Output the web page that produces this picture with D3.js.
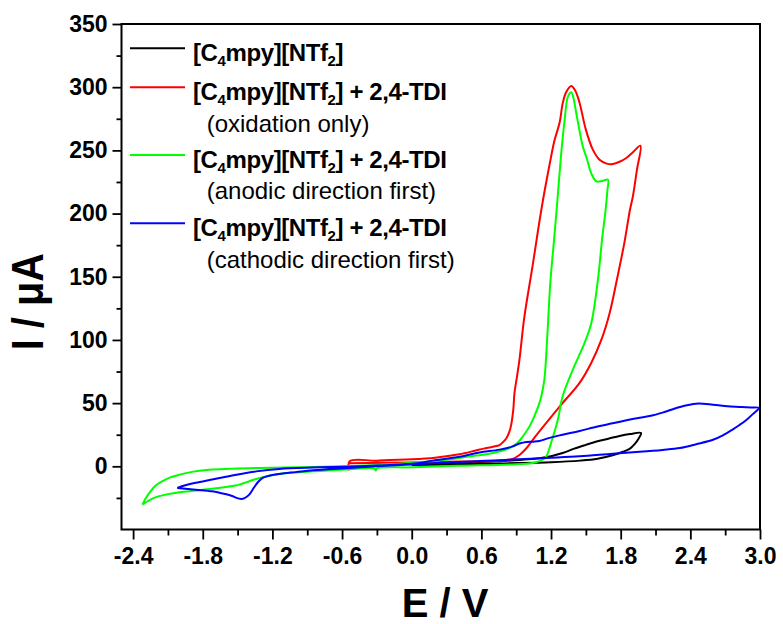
<!DOCTYPE html>
<html>
<head>
<meta charset="utf-8">
<script src="https://cdn.jsdelivr.net/npm/d3@7"></script>
<style>
  html, body { margin: 0; padding: 0; background: #fff; }
  svg { display: block; font-family: "Liberation Sans", Arial, Helvetica, sans-serif; }
</style>
</head>
<body>
<svg id="chart" width="783" height="624"></svg>
<script>
// Axis ticks
const xTicks = [-2.4, -1.8, -1.2, -0.6, 0.0, 0.6, 1.2, 1.8, 2.4, 3.0];
const xMinorTicks = [-2.1, -1.5, -0.9, -0.3, 0.3, 0.9, 1.5, 2.1, 2.7];
const yTicks = [0, 50, 100, 150, 200, 250, 300, 350];
const yMinorTicks = [-25, 25, 75, 125, 175, 225, 275, 325];

// Cyclic voltammograms: [E / V, I / µA]
const neatIL = [
  [0.0, 1.0], [0.4, 1.5], [0.8, 2.3], [1.2, 3.2], [1.45, 4.5], [1.6, 6.0], [1.73, 8.8],
  [1.82, 11.5], [1.88, 14], [1.92, 17.5], [1.955, 22], [1.975, 26.4],
  [1.88, 25.5], [1.79, 24], [1.70, 22], [1.60, 19.8], [1.50, 17], [1.40, 14],
  [1.30, 10.5], [1.2, 8], [1.0, 5.5], [0.73, 4], [0.4, 2.7], [0.0, 1.5]
];

const oxidationOnly = [
  [-0.54, -3.2], [-0.535, 4.0], [-0.3, 4.5], [0.0, 5.5], [0.2, 6.8], [0.41, 9.5], [0.55, 12.5],
  [0.62, 14], [0.70, 15.5], [0.756, 16.8], [0.79, 19.5], [0.814, 22], [0.84, 27], [0.857, 33],
  [0.875, 45], [0.885, 58], [0.905, 70], [0.928, 84.4], [0.97, 118], [1.04, 158], [1.12, 205],
  [1.19, 240], [1.23, 258], [1.274, 272], [1.30, 287], [1.33, 296], [1.374, 301], [1.41, 297],
  [1.446, 287.5], [1.50, 266.4], [1.56, 250.6], [1.618, 242.6], [1.68, 239.5], [1.733, 239.2],
  [1.79, 241], [1.848, 244], [1.91, 249], [1.97, 253.7],
  [1.94, 234.7], [1.905, 213.6], [1.88, 203], [1.83, 176], [1.768, 148], [1.704, 121],
  [1.633, 100], [1.547, 82], [1.446, 66], [1.288, 48.8], [1.159, 34.3], [1.043, 21],
  [0.98, 13.5], [0.928, 9.0], [0.87, 5.8], [0.70, 4.2], [0.41, 3.8], [0.0, 3.0], [-0.535, 2.5]
];

const anodicFirst = [
  [-2.32, -30.3], [-2.22, -25], [-2.12, -22.4], [-2.0, -20.5], [-1.86, -19.2], [-1.72, -17.8],
  [-1.60, -16.3], [-1.53, -15.3], [-1.485, -14.5], [-1.42, -12.5], [-1.34, -10], [-1.24, -7.8],
  [-1.14, -6], [-1.0, -4.8], [-0.85, -4], [-0.57, -2.6], [-0.32, -1.8], [-0.31, -3.4],
  [-0.30, -1.7], [0.0, -0.8], [0.4, 0.4], [0.84, 1.5], [1.043, 2.7], [1.12, 4.8], [1.159, 7.9],
  [1.20, 18.5], [1.259, 37], [1.30, 55.4], [1.388, 76.5], [1.489, 97.6], [1.547, 113.4],
  [1.604, 147.7], [1.64, 180], [1.67, 203], [1.685, 218], [1.69, 226.8],
  [1.64, 225.8], [1.59, 225.5], [1.546, 232], [1.51, 243], [1.474, 253], [1.417, 279.6],
  [1.39, 292.7], [1.374, 296], [1.346, 292.7], [1.317, 274], [1.288, 248], [1.25, 205],
  [1.222, 175], [1.205, 158], [1.19, 140], [1.175, 115], [1.16, 90], [1.143, 69], [1.12, 57],
  [1.10, 50], [1.058, 40], [1.015, 31.6], [0.96, 24], [0.91, 18.5], [0.842, 14.5], [0.698, 10.6],
  [0.555, 8.5], [0.412, 6.6], [0.18, 4], [0.0, 2.8], [-0.28, 1.0], [-0.6, 0.0], [-0.85, -0.5],
  [-1.1, -1.0], [-1.31, -1.3], [-1.5, -1.8], [-1.72, -2.6], [-1.88, -4.2], [-2.0, -6.6],
  [-2.08, -8.8], [-2.15, -11.9], [-2.21, -15.5], [-2.25, -19.8], [-2.29, -25], [-2.32, -30.3]
];

const cathodicFirst = [
  [-2.02, -17.1], [-1.95, -15], [-1.86, -13], [-1.72, -10.5], [-1.60, -8.3], [-1.51, -6.6],
  [-1.34, -4], [-1.14, -2.1], [-0.85, -1.0], [-0.565, -0.3], [-0.3, 0.6], [0.0, 2.0],
  [0.18, 4.5], [0.412, 7.5], [0.584, 11], [0.756, 13.2], [0.87, 15.8], [0.928, 18],
  [0.986, 19.3], [1.05, 19.5], [1.10, 20], [1.187, 22.5], [1.30, 25], [1.446, 28],
  [1.60, 31.5], [1.73, 34], [1.85, 36.5], [1.963, 38.5], [2.06, 40], [2.16, 42.5], [2.31, 47],
  [2.45, 49.6], [2.595, 48.8], [2.72, 47.5], [2.825, 47], [2.92, 46.5], [2.99, 46.2],
  [2.94, 41.5], [2.88, 36.5], [2.82, 32.5], [2.77, 29.5], [2.68, 24.5], [2.595, 21],
  [2.45, 17.5], [2.31, 14.5], [2.16, 13], [1.963, 11.5], [1.73, 10], [1.446, 7.9], [1.16, 6.6],
  [0.87, 5.3], [0.586, 4.2], [0.3, 3], [0.0, 1.5], [-0.3, 0], [-0.565, -1.5], [-0.85, -3.2],
  [-1.0, -4.6], [-1.1, -5.5], [-1.22, -7.2], [-1.28, -9], [-1.32, -12], [-1.36, -17],
  [-1.40, -22.4], [-1.44, -25.2], [-1.47, -25.8], [-1.51, -25], [-1.54, -23.7], [-1.63, -21.5],
  [-1.72, -19.8], [-1.86, -18.5], [-2.02, -17.1]
];

const seriesData = [neatIL, oxidationOnly, anodicFirst, cathodicFirst];
const seriesColors = ["#000000", "#ff0000", "#00ff00", "#0000ff"];
const seriesTitles = [
  "[C4mpy][NTf2]",
  "[C4mpy][NTf2] + 2,4-TDI",
  "[C4mpy][NTf2] + 2,4-TDI",
  "[C4mpy][NTf2] + 2,4-TDI"
];
const seriesNotes = [null, "(oxidation only)", "(anodic direction first)", "(cathodic direction first)"];

const FONT = '"Liberation Sans", Arial, Helvetica, sans-serif';
const svg = d3.select("#chart");

const plot = { left: 121.5, right: 760, top: 24, bottom: 529.5 };
const x = d3.scaleLinear().domain([-2.5, 3.0]).range([plot.left, plot.right]);
const y = d3.scaleLinear().domain([-50, 350]).range([plot.bottom, plot.top]);

// Curves
const line = d3.line()
  .x(d => x(d[0]))
  .y(d => y(d[1]))
  .curve(d3.curveCatmullRom.alpha(0.5));

svg.append("g")
  .selectAll("path")
  .data(seriesData)
  .join("path")
  .attr("d", line)
  .attr("fill", "none")
  .attr("stroke", (d, i) => seriesColors[i])
  .attr("stroke-width", 2)
  .attr("stroke-linejoin", "round");

// Axes
function styleAxis(g) {
  g.select(".domain").remove();
  g.selectAll(".tick line").attr("stroke", "#000").attr("stroke-width", 1.8);
  g.selectAll(".tick text")
    .attr("fill", "#000")
    .attr("font-family", FONT)
    .attr("font-size", 23)
    .attr("font-weight", "bold");
}

svg.append("g")
  .attr("transform", `translate(0,${plot.bottom})`)
  .call(d3.axisBottom(x).tickValues(xMinorTicks).tickSize(6).tickFormat(""))
  .call(styleAxis);

svg.append("g")
  .attr("transform", `translate(0,${plot.bottom})`)
  .call(d3.axisBottom(x).tickValues(xTicks).tickSize(10).tickPadding(8)
    .tickFormat(d => d.toFixed(1)))
  .call(styleAxis);

svg.append("g")
  .attr("transform", `translate(${plot.left},0)`)
  .call(d3.axisLeft(y).tickValues(yMinorTicks).tickSize(5).tickFormat(""))
  .call(styleAxis);

svg.append("g")
  .attr("transform", `translate(${plot.left},0)`)
  .call(d3.axisLeft(y).tickValues(yTicks).tickSize(9).tickPadding(5)
    .tickFormat(d3.format("d")))
  .call(styleAxis);

// Frame
svg.append("rect")
  .attr("x", plot.left)
  .attr("y", plot.top)
  .attr("width", plot.right - plot.left)
  .attr("height", plot.bottom - plot.top)
  .attr("fill", "none")
  .attr("stroke", "#000")
  .attr("stroke-width", 2);

// Axis titles
svg.append("text")
  .attr("x", 445)
  .attr("y", 617)
  .attr("text-anchor", "middle")
  .attr("font-family", FONT)
  .attr("font-size", 40)
  .attr("font-weight", "bold")
  .text("E / V");

svg.append("text")
  .attr("transform", "translate(43,301.7) rotate(-90)")
  .attr("text-anchor", "middle")
  .attr("font-family", FONT)
  .attr("font-size", 44)
  .attr("font-weight", "bold")
  .attr("textLength", 97)
  .attr("lengthAdjust", "spacingAndGlyphs")
  .text("I / μA");

// Legend
const legendLineY = [48.3, 87.3, 155, 223.3];
const legend = svg.append("g");

// Writes a label, lowering the digit after "C" and after "NTf" as a subscript
function writeLabel(textSel, label) {
  const parts = label.split(/(?<=C)(4)|(?<=NTf)(2)/).filter(s => s !== undefined && s !== "");
  let lowered = false;
  parts.forEach(p => {
    const ts = textSel.append("tspan").text(p);
    if (p === "4" || p === "2") {
      ts.attr("font-size", 15).attr("dy", 5.5);
      lowered = true;
    } else if (lowered) {
      ts.attr("dy", -5.5);
      lowered = false;
    }
  });
}

seriesTitles.forEach((label, i) => {
  const ly = legendLineY[i];
  legend.append("line")
    .attr("x1", 130).attr("x2", 185)
    .attr("y1", ly).attr("y2", ly)
    .attr("stroke", seriesColors[i])
    .attr("stroke-width", 2);

  const t = legend.append("text")
    .attr("x", 193)
    .attr("y", ly + 12.5)
    .attr("font-family", FONT)
    .attr("font-size", 24)
    .attr("font-weight", "bold")
    .attr("letter-spacing", -0.4)
    .attr("fill", "#000");
  writeLabel(t, label);

  if (seriesNotes[i]) {
    legend.append("text")
      .attr("x", 206.7)
      .attr("y", ly + 44.2)
      .attr("font-family", FONT)
      .attr("font-size", 24)
      .attr("fill", "#000")
      .text(seriesNotes[i]);
  }
});
</script>
</body>
</html>
